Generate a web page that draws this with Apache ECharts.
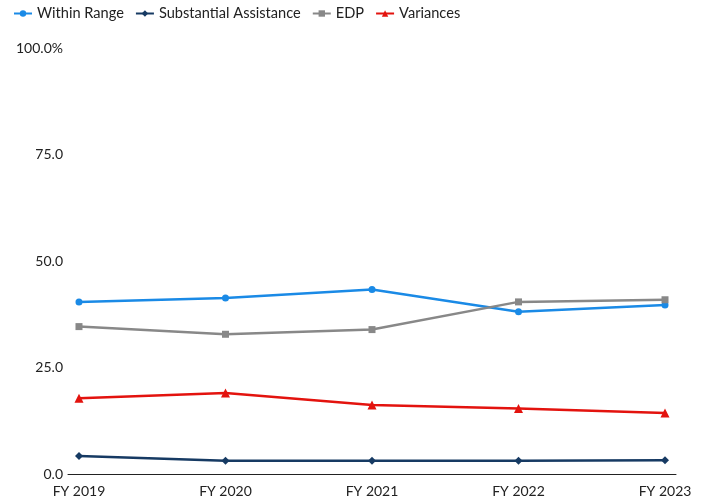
<!DOCTYPE html>
<html>
<head>
<meta charset="utf-8">
<style>html,body{margin:0;padding:0;background:#fff;}#c{width:706px;height:501px;}</style>
<script src="https://cdn.jsdelivr.net/npm/echarts@6/dist/echarts.min.js"></script>
</head>
<body>
<div id="c"></div>
<script>
var categories = ["FY 2019", "FY 2020", "FY 2021", "FY 2022", "FY 2023"];
var withinRange = [40.4, 41.3, 43.3, 38.1, 39.7];
var substantialAssistance = [4.2, 3.1, 3.1, 3.1, 3.2];
var edp = [34.6, 32.8, 33.9, 40.4, 40.9];
var variances = [17.8, 19.0, 16.2, 15.4, 14.3];
var yTicks = [0, 25, 50, 75, 100];

function pairs(arr) { return arr.map(function (v, i) { return [i, v]; }); }

var chart = echarts.init(document.getElementById('c'));
var font = 'Lato';
function mk(name, data, color, symbol, size) {
  return {
    name: name, type: 'line', data: pairs(data),
    symbol: symbol, symbolSize: size, showSymbol: true,
    lineStyle: { color: color, width: 2.5 },
    itemStyle: { color: color },
    emphasis: { disabled: true }
  };
}
chart.setOption({
  animation: false,
  textStyle: { fontFamily: font },
  legend: {
    left: 13, top: 6, padding: 0,
    itemWidth: 18, itemHeight: 8, itemGap: 11,
    textStyle: { fontFamily: font, fontSize: 14.6, color: '#222' },
    data: ['Within Range', 'Substantial Assistance', 'EDP', 'Variances']
  },
  grid: { left: 68, right: 30, top: 48, bottom: 27, containLabel: false },
  xAxis: {
    type: 'value', min: -0.075, max: 4.075,
    axisLine: { show: true, lineStyle: { color: '#222', width: 1 } },
    axisTick: { show: false },
    splitLine: { show: false },
    axisLabel: {
      customValues: [0, 1, 2, 3, 4],
      formatter: function (v) { return categories[Math.round(v)]; },
      fontFamily: font, fontSize: 14, color: '#222', margin: 10
    }
  },
  yAxis: {
    type: 'value', min: 0, max: 100, interval: 25,
    axisLine: { show: false }, axisTick: { show: false },
    splitLine: { show: false },
    axisLabel: {
      customValues: yTicks,
      formatter: function (v) { return v === 100 ? '100.0%' : v.toFixed(1); },
      fontFamily: font, fontSize: 14, color: '#222', margin: 5
    }
  },
  series: [
    mk('Within Range', withinRange, '#1a8ae6', 'circle', 7),
    mk('Substantial Assistance', substantialAssistance, '#163a63', 'diamond', 8),
    mk('EDP', edp, '#888888', 'rect', 7),
    mk('Variances', variances, '#e3130e', 'triangle', 9)
  ]
});
</script>
</body>
</html>
